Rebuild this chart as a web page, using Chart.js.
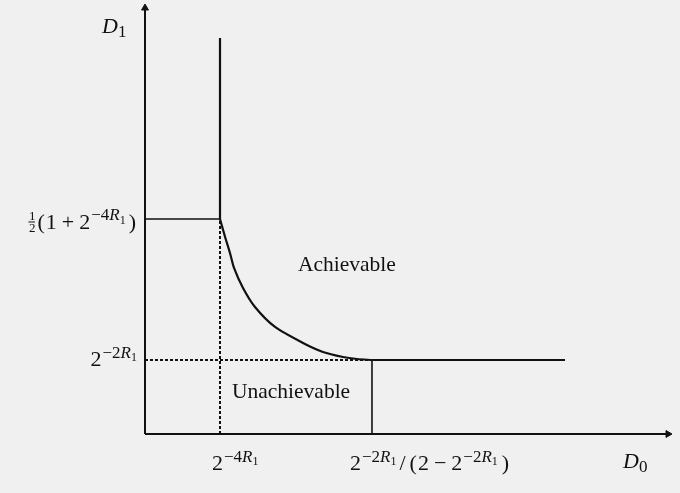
<!DOCTYPE html>
<html>
<head>
<meta charset="utf-8">
<script src="https://cdn.jsdelivr.net/npm/chart.js@4/dist/chart.umd.min.js"></script>
<style>
  html, body { margin: 0; padding: 0; background: #f0f0f0; }
  canvas { display: block; }
</style>
</head>
<body>
<canvas id="c" width="680" height="493"></canvas>
<script>
// ---- Data (abstract units; axis runs 0..10 in both directions) ----
const axisMax = 10;
// x positions of the marked D0 values: 2^{-4R1}, 2^{-2R1}/(2-2^{-2R1})
const xMarks = [1.434, 4.340];
// y positions of the marked D1 values: 1/2(1+2^{-4R1}), 2^{-2R1}
const yMarks = [5.047, 1.737];
// top of the vertical boundary branch, end of flat branch
const boundaryTopY = 9.296;
const flatEndX = 8.031;
// curved part of the boundary (D0, D1)
const curveX = [1.434, 1.530, 1.625, 1.702, 1.874, 2.103, 2.486, 3.021, 3.403, 3.786, 4.054, 4.340];
const curveY = [5.047, 4.631, 4.249, 3.897, 3.427, 2.981, 2.512, 2.136, 1.925, 1.808, 1.761, 1.737];
// region labels (anchor in data units)
const regionLabels = [
  { text: 'Achievable', x: 2.925, y: 3.826 },
  { text: 'Unachievable', x: 1.663, y: 0.845 }
];

const INK = '#111111';
const FONT = '"Liberation Serif", serif';

const curvePts = curveX.map((x, i) => ({ x, y: curveY[i] }));

function line(points, width, dash, extra) {
  return Object.assign({
    data: points,
    showLine: true,
    borderColor: INK,
    backgroundColor: INK,
    borderWidth: width,
    borderDash: dash || [],
    pointRadius: 0,
    tension: 0,
    clip: false
  }, extra || {});
}

const datasets = [
  // y axis with arrow
  line([{ x: 0, y: 0 }, { x: 0, y: axisMax }], 2, null, {
    pointRadius: [0, 4], pointStyle: 'triangle', rotation: [0, 0],
    pointBackgroundColor: INK, pointBorderColor: INK, pointBorderWidth: 1
  }),
  // x axis with arrow
  line([{ x: 0, y: 0 }, { x: axisMax, y: 0 }], 2, null, {
    pointRadius: [0, 4], pointStyle: 'triangle', rotation: [0, 90],
    pointBackgroundColor: INK, pointBorderColor: INK, pointBorderWidth: 1
  }),
  // vertical branch of boundary
  line([{ x: xMarks[0], y: boundaryTopY }, { x: xMarks[0], y: yMarks[0] }], 2.2),
  // curved branch
  line(curvePts, 2.2, null, { tension: 0.25 }),
  // flat branch
  line([{ x: xMarks[1], y: yMarks[1] }, { x: flatEndX, y: yMarks[1] }], 2.2),
  // solid guide from y-axis to corner
  line([{ x: 0, y: yMarks[0] }, { x: xMarks[0], y: yMarks[0] }], 1.6),
  // dashed vertical guide at first x mark
  line([{ x: xMarks[0], y: 0 }, { x: xMarks[0], y: yMarks[0] }], 2, [3, 2]),
  // dashed horizontal guide at second y mark
  line([{ x: 0, y: yMarks[1] }, { x: xMarks[1], y: yMarks[1] }], 2, [3, 2]),
  // solid vertical guide at second x mark
  line([{ x: xMarks[1], y: 0 }, { x: xMarks[1], y: yMarks[1] }], 1.6)
];

// ---- rich (math-like) text ----
function fontOf(r) { return (r.i ? 'italic ' : '') + r.s + 'px ' + FONT; }
function measureRun(ctx, r) {
  if (r.frac) {
    ctx.font = fontOf({ s: r.s });
    return Math.max(ctx.measureText(r.frac[0]).width, ctx.measureText(r.frac[1]).width) + 3;
  }
  ctx.font = fontOf(r);
  return ctx.measureText(r.t).width + (r.gap || 0) + (r.pre || 0);
}
function drawRich(ctx, runs, x, y, align) {
  let total = 0;
  runs.forEach(r => total += measureRun(ctx, r));
  let cx = align === 'right' ? x - total : (align === 'center' ? x - total / 2 : x);
  ctx.save();
  ctx.fillStyle = INK;
  ctx.textBaseline = 'alphabetic';
  ctx.textAlign = 'left';
  runs.forEach(r => {
    const w = measureRun(ctx, r);
    if (r.frac) {
      ctx.font = fontOf({ s: r.s });
      const barY = y - 7;
      const mid = cx + w / 2 - 0.5;
      ctx.textAlign = 'center';
      ctx.fillText(r.frac[0], mid, barY - 1.5);
      ctx.fillText(r.frac[1], mid, barY + 10);
      ctx.textAlign = 'left';
      ctx.fillRect(cx + 0.5, barY - 0.5, w - 3, 1);
    } else {
      ctx.font = fontOf(r);
      ctx.fillText(r.t, cx + (r.pre || 0), y + (r.dy || 0));
    }
    cx += w;
  });
  ctx.restore();
}

const M = 22, S = 17, SS = 12;
const supDy = -8.5, subDy = -5;
function pow2(exp, gapAfter) {
  return [{ t: '2', s: M }, { t: '−' + exp, s: S, dy: supDy, pre: 1 }, { t: 'R', s: S, dy: supDy, i: true },
          { t: '1', s: SS, dy: subDy, gap: gapAfter || 0 }];
}
const labels = {
  yAxis: [{ t: 'D', s: M, i: true }, { t: '1', s: S, dy: 4 }],
  xAxis: [{ t: 'D', s: M, i: true }, { t: '0', s: S, dy: 4 }],
  y0: [{ frac: ['1', '2'], s: 13 }, { t: '(', s: M, gap: 1 }, { t: '1', s: M, gap: 5 }, { t: '+', s: M, gap: 5 }]
       .concat(pow2('4', 3), [{ t: ')', s: M }]),
  y1: pow2('2'),
  x0: pow2('4'),
  x1: pow2('2', 3).concat([{ t: '/', s: M, gap: 4 }, { t: '(', s: M, gap: 1 }, { t: '2', s: M, gap: 5 }, { t: '−', s: M, gap: 5 }],
                          pow2('2', 4), [{ t: ')', s: M }])
};

const textPlugin = {
  id: 'mathText',
  afterDatasetsDraw(chart) {
    const ctx = chart.ctx;
    const xs = chart.scales.x, ys = chart.scales.y;
    const x0 = xs.getPixelForValue(0), y0 = ys.getPixelForValue(0);
    const baseX = y0 + 36;
    // axis names
    drawRich(ctx, labels.yAxis, x0 - 43, ys.getPixelForValue(axisMax) + 25, 'left');
    drawRich(ctx, labels.xAxis, xs.getPixelForValue(axisMax) - 45, baseX - 2, 'left');
    // y tick labels
    drawRich(ctx, labels.y0, x0 - 9, ys.getPixelForValue(yMarks[0]) + 10, 'right');
    drawRich(ctx, labels.y1, x0 - 8, ys.getPixelForValue(yMarks[1]) + 6, 'right');
    // x tick labels
    drawRich(ctx, labels.x0, xs.getPixelForValue(xMarks[0]) - 8, baseX, 'left');
    drawRich(ctx, labels.x1, xs.getPixelForValue(xMarks[1]) - 22, baseX, 'left');
    // region labels
    regionLabels.forEach(l => {
      drawRich(ctx, [{ t: l.text, s: 21.5 }], xs.getPixelForValue(l.x), ys.getPixelForValue(l.y), 'left');
    });
  }
};

new Chart(document.getElementById('c'), {
  type: 'scatter',
  data: { datasets },
  options: {
    responsive: false,
    animation: false,
    events: [],
    layout: { padding: { left: 145, top: 8, right: 12, bottom: 59 } },
    plugins: { legend: { display: false }, tooltip: { enabled: false } },
    scales: {
      x: { type: 'linear', min: 0, max: axisMax, display: false },
      y: { type: 'linear', min: 0, max: axisMax, display: false }
    }
  },
  plugins: [textPlugin]
});
</script>
</body>
</html>
